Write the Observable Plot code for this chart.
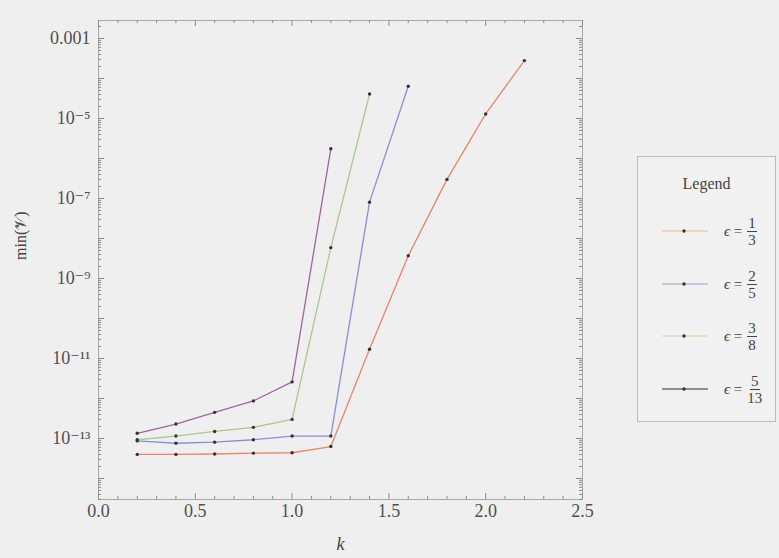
<!DOCTYPE html>
<html>
<head>
<meta charset="utf-8">
<script src="https://cdn.jsdelivr.net/npm/d3@7"></script>
<script src="https://cdn.jsdelivr.net/npm/@observablehq/plot@0.6"></script>
<style>
  html, body { margin: 0; padding: 0; background: #efefef; }
  #wrap { position: relative; width: 779px; height: 558px; background: #efefef; font-family: "Liberation Serif", "DejaVu Serif", serif; }
  #legend { position: absolute; left: 637px; top: 156px; width: 139px; height: 266px; border: 1px solid #bdbdbd; box-sizing: border-box; background: #f1f1f1; color: #444; }
  #legend .title { position: absolute; top: 18px; width: 100%; text-align: center; font-size: 16px; }
  .entry { position: absolute; left: 0; width: 100%; height: 40px; }
  .entry svg { position: absolute; left: 24px; top: 12px; }
  .entry .lab { position: absolute; left: 86px; top: 0; display: flex; align-items: center; font-size: 15px; height: 40px; }
  .frac { display: inline-flex; flex-direction: column; align-items: center; margin-left: 5px; line-height: 16px; font-size: 15px; }
  .frac .num { border-bottom: 1px solid #444; padding: 0 1px; }
</style>
</head>
<body>
<div id="wrap"><div id="chart"></div><div id="legend"><div class="title">Legend</div></div></div>
<script>
// ---- data ----
const seriesNames = ["1/3", "2/5", "3/8", "5/13"];
const seriesColors = ["#e8866a", "#8a8ed6", "#a9c892", "#a0649e"];
const legendColors = ["#f0c8b4", "#b8bcd0", "#dcdcc0", "#706878"];
const kRed = [0.2, 0.4, 0.6, 0.8, 1.0, 1.2, 1.4, 1.6, 1.8, 2.0, 2.2];
const vRed = [4.0e-14, 4.0e-14, 4.1e-14, 4.3e-14, 4.4e-14, 6.3e-14, 1.7e-11, 3.7e-9, 3.0e-7, 1.3e-5, 2.8e-4];
const kBlue = [0.2, 0.4, 0.6, 0.8, 1.0, 1.2, 1.4, 1.6];
const vBlue = [8.7e-14, 7.6e-14, 8.1e-14, 9.3e-14, 1.15e-13, 1.15e-13, 8.1e-8, 6.4e-5];
const kGreen = [0.2, 0.4, 0.6, 0.8, 1.0, 1.2, 1.4];
const vGreen = [9.3e-14, 1.15e-13, 1.5e-13, 1.9e-13, 3.0e-13, 5.9e-9, 4.1e-5];
const kPurple = [0.2, 0.4, 0.6, 0.8, 1.0, 1.2];
const vPurple = [1.35e-13, 2.3e-13, 4.5e-13, 8.7e-13, 2.6e-12, 1.75e-6];
const xTickLabels = [0, 0.5, 1.0, 1.5, 2.0, 2.5];
const yTickLabels = [1e-3, 1e-5, 1e-7, 1e-9, 1e-11, 1e-13];
const xLabel = "k";
const yLabel = "min(𝒱)";

const ks = [kRed, kBlue, kGreen, kPurple];
const vs = [vRed, vBlue, vGreen, vPurple];
const data = [];
ks.forEach((kk, i) => kk.forEach((k, j) => data.push({k, v: vs[i][j], s: seriesNames[i]})));

const xDom = [0, 2.5];
const yDom = [Math.pow(10, -14.525), Math.pow(10, -2.55)];
const pxPerDec = 40;
const pxPerX = 194;

const sup = {"-": "⁻", "0": "⁰", "1": "¹", "2": "²", "3": "³", "4": "⁴", "5": "⁵", "6": "⁶", "7": "⁷", "8": "⁸", "9": "⁹"};
function fmtY(d) {
  const e = Math.round(Math.log10(d));
  if (e === -3) return "0.001";
  return "10" + String(e).split("").map(c => sup[c]).join("");
}

// tick positions
const xMajor = d3.range(0, 2.5001, 0.5);
const xMinor = d3.range(0, 2.5001, 0.1).filter(x => Math.abs(x * 2 - Math.round(x * 2)) > 1e-6);
const yMajor = d3.range(-14, -2).map(e => Math.pow(10, e));
const yMinor = [];
for (let e = -15; e <= -3; e++) for (let m = 2; m <= 9; m++) { const v = m * Math.pow(10, e); if (v > yDom[0] && v < yDom[1]) yMinor.push(v); }

const tickColor = "#8c8c8c";
const yFac = L => Math.pow(10, L / pxPerDec);
const xOff = L => L / pxPerX;

const marks = [
  Plot.frame({stroke: "#a8a8a8"}),
  Plot.ruleX(xMajor, {x: d => d, y1: yDom[0], y2: yDom[0] * yFac(6), stroke: tickColor}),
  Plot.ruleX(xMinor, {x: d => d, y1: yDom[0], y2: yDom[0] * yFac(3), stroke: tickColor}),
  Plot.ruleX(xMajor, {x: d => d, y1: yDom[1], y2: yDom[1] / yFac(6), stroke: tickColor}),
  Plot.ruleX(xMinor, {x: d => d, y1: yDom[1], y2: yDom[1] / yFac(3), stroke: tickColor}),
  Plot.ruleY(yMajor, {y: d => d, x1: 0, x2: xOff(6), stroke: tickColor}),
  Plot.ruleY(yMinor, {y: d => d, x1: 0, x2: xOff(3), stroke: tickColor}),
  Plot.ruleY(yMajor, {y: d => d, x1: 2.5, x2: 2.5 - xOff(6), stroke: tickColor}),
  Plot.ruleY(yMinor, {y: d => d, x1: 2.5, x2: 2.5 - xOff(3), stroke: tickColor}),
  Plot.axisX(xTickLabels, {tickSize: 0, tickPadding: 5, tickFormat: d3.format(".1f"), fontSize: 18, fill: "#505050", label: null}),
  Plot.axisY(yTickLabels, {tickSize: 0, tickPadding: 8, tickFormat: fmtY, fontSize: 18, fill: "#505050", label: null}),
  Plot.line(data, {x: "k", y: "v", z: "s", stroke: "s", strokeWidth: 1.3}),
  Plot.dot(data, {x: "k", y: "v", r: 1.7, fill: "#333", stroke: null}),
  Plot.text([yLabel], {frameAnchor: "left", dx: -78, rotate: -90, fontSize: 16, fill: "#444", text: d => d}),
  Plot.text([xLabel], {frameAnchor: "bottom", dy: 50, fontSize: 18, fontStyle: "italic", fill: "#444", text: d => d})
];

const chart = Plot.plot({
  width: 620,
  height: 558,
  marginLeft: 98,
  marginRight: 38,
  marginTop: 20,
  marginBottom: 59,
  style: {background: "#efefef", fontFamily: "'Liberation Serif', 'DejaVu Serif', serif", overflow: "visible"},
  x: {domain: xDom},
  y: {type: "log", domain: yDom},
  color: {domain: seriesNames, range: seriesColors},
  marks
});
document.getElementById("chart").appendChild(chart);

// legend
const leg = document.getElementById("legend");
const entryTops = [54, 107, 159, 212];
seriesNames.forEach((name, i) => {
  const [num, den] = name.split("/");
  const e = document.createElement("div");
  e.className = "entry";
  e.style.top = entryTops[i] + "px";
  e.innerHTML = `<svg width="48" height="16"><line x1="0" y1="8" x2="46" y2="8" stroke="${legendColors[i]}" stroke-width="1.3"/><circle cx="22" cy="8" r="1.7" fill="#333"/></svg>` +
    `<div class="lab"><i>ϵ</i>&nbsp;=<span class="frac"><span class="num">${num}</span><span>${den}</span></span></div>`;
  leg.appendChild(e);
});
</script>
</body>
</html>
